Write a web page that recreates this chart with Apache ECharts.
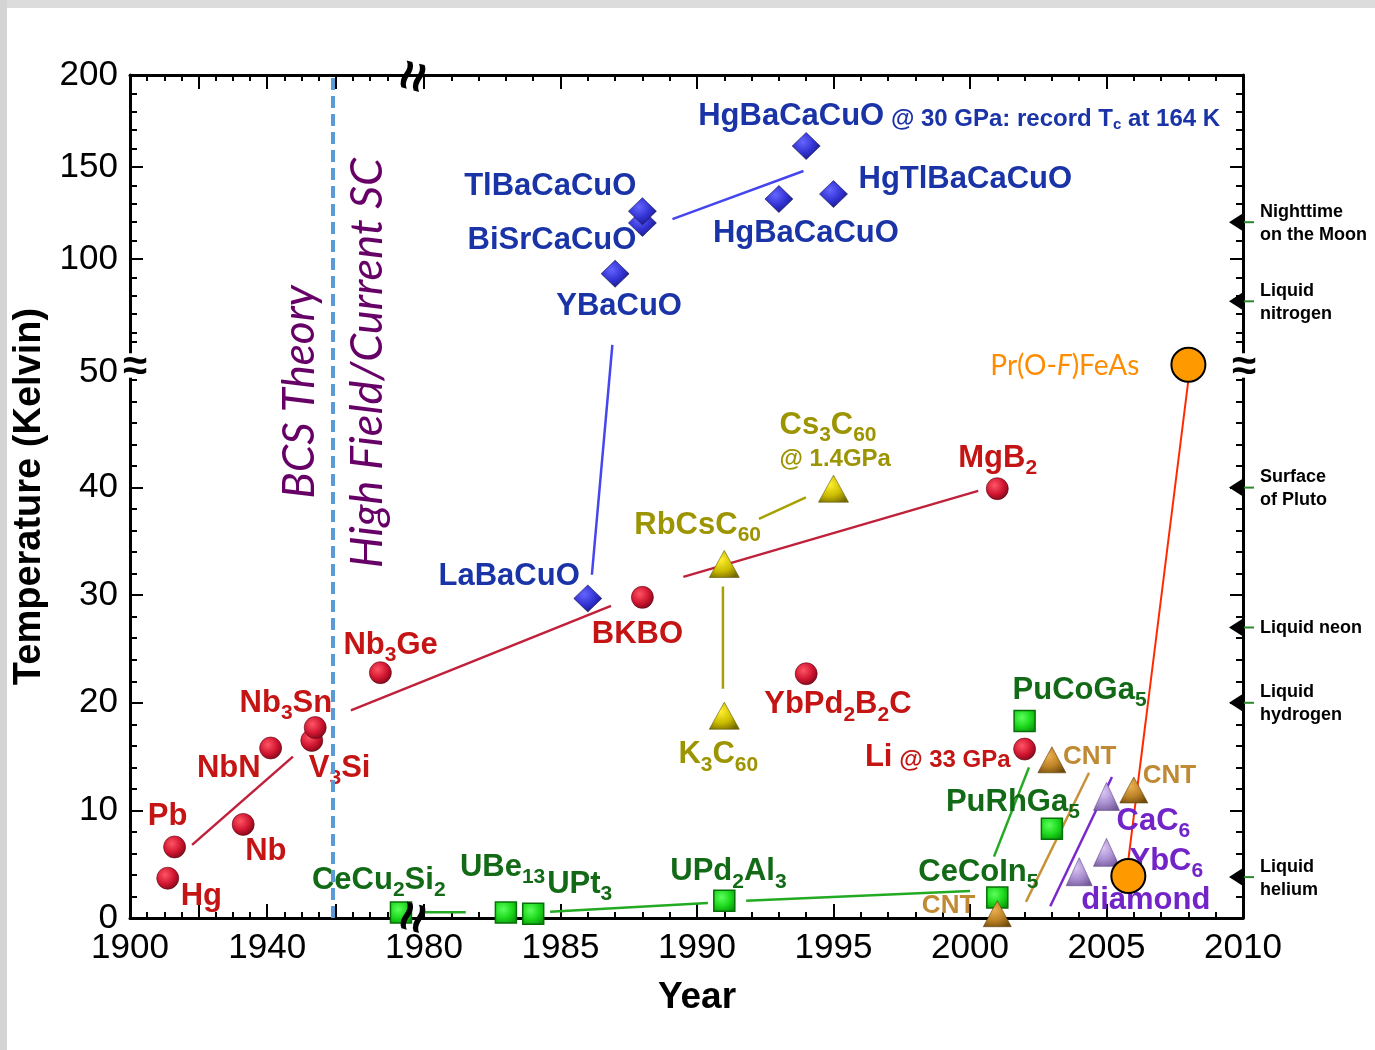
<!DOCTYPE html>
<html>
<head>
<meta charset="utf-8">
<script src="https://cdn.jsdelivr.net/npm/echarts@6/dist/echarts.min.js"></script>
<style>
  html, body { margin: 0; background: #fff; }
  #chart { width: 1375px; height: 1050px; }
</style>
</head>
<body>
<div id="chart"></div>
<script>
// conventional superconductors (red spheres)
const bcsNames = ['Hg', 'Pb', 'Nb', 'NbN', 'V_3Si', 'Nb_3Sn', 'Nb_3Ge', 'BKBO', 'YbPd_2B_2C', 'MgB_2', 'Li| @ 33 GPa'];
const bcsYears = [1911, 1913, 1933, 1941, 1953, 1954, 1973, 1988, 1994, 2001, 2002];
const bcsTc = [3.7, 6.6, 8.7, 15.8, 16.5, 17.7, 22.8, 29.8, 22.7, 39.9, 15.7];

// cuprates (blue diamonds)
const cupNames = ['LaBaCuO', 'YBaCuO', 'BiSrCaCuO', 'TlBaCaCuO', 'HgBaCaCuO', 'HgBaCaCuO| @ 30 GPa: record T_c at 164 K', 'HgTlBaCaCuO'];
const cupYears = [1986, 1987, 1988, 1988, 1993, 1994, 1995];
const cupTc = [29.7, 92, 119.6, 126, 132.6, 161.4, 135.3];

// fullerides (olive triangles)
const fulNames = ['K_3C_60', 'RbCsC_60', 'Cs_3C_60\n|@ 1.4GPa'];
const fulYears = [1991, 1991, 1995];
const fulTc = [18.8, 32.9, 39.9];

// heavy fermions (green squares)
const hfNames = ['CeCu_2Si_2', 'UBe_13', 'UPt_3', 'UPd_2Al_3', 'CeCoIn_5', 'PuCoGa_5', 'PuRhGa_5'];
const hfYears = [1979, 1983, 1984, 1991, 2001, 2002, 2003];
const hfTc = [0.5, 0.5, 0.4, 1.6, 1.9, 18.3, 8.3];

// carbon nanotubes (tan triangles)
const cntNames = ['CNT', 'CNT', 'CNT'];
const cntYears = [2001, 2003, 2006];
const cntTc = [0.4, 14.7, 11.9];

// graphite intercalation + diamond (purple triangles)
const gicNames = ['diamond', 'YbC_6', 'CaC_6'];
const gicYears = [2004, 2005, 2005];
const gicTc = [4.3, 6.1, 11.3];

// iron based (orange)
const feYears = [2005.8, 2008];
const feTc = [3.9, 52];

// guide lines, [year, Tc] pairs
const bcsLines = [[[1918.1, 6.8], [1947.5, 15.0]], [[1964.4, 19.3], [1986.85, 29.0]], [[1989.5, 31.7], [2000.3, 39.7]]];
const cupLines = [[[1986.9, 54.6], [1986.15, 31.9]], [[1989.1, 121.7], [1993.9, 147.8]]];
const fulLines = [[[1992.27, 37.1], [1993.99, 39.1]], [[1990.95, 30.8], [1990.95, 21.3]]];
const hfLines = [[[1979.97, 0.53], [1981.53, 0.53]], [[1984.62, 0.59], [1990.4, 1.4]], [[1991.8, 1.6], [2000.0, 2.5]], [[2000.88, 5.7], [2002.16, 14.0]]];
const cntLines = [[[2002.05, 1.5], [2004.36, 13.5]]];
const gicLines = [[[2002.94, 1.1], [2005.2, 13.1]]];
const feLines = [[[2005.8, 5.4], [2008.0, 50.0]]];

// temperature references on the right edge
const refNames = ['Nighttime\non the Moon', 'Liquid\nnitrogen', 'Surface\nof Pluto', 'Liquid neon', 'Liquid\nhydrogen', 'Liquid\nhelium'];
const refTemps = [120, 77, 40, 27, 20, 3.8];

const xTickLabels = [1900, 1940, 1980, 1985, 1990, 1995, 2000, 2005, 2010];
const yTickLabels = [0, 10, 20, 30, 40, 50, 100, 150, 200];

// broken axes: map real values to a virtual linear scale
function xv(yr) { return yr < 1979.2 ? 3.43 * (yr - 1900) : 294 + 27.3 * (yr - 1980); }
function yv(t) { return t <= 50 ? 10.76 * t : (t <= 55 ? 538 + 7.64 * (t - 50) : 659 + 1.84 * (t - 100)); }
const XMAX = xv(2010), YMAX = yv(200);

const xMajor = [1900, 1920, 1940, 1960, 1980, 1985, 1990, 1995, 2000, 2005, 2010].map(xv);
const xMinor = [];
for (let y = 1905; y <= 1975; y += 5) if (y % 20) xMinor.push(xv(y));
for (let y = 1981; y < 2010; y++) if (y % 5) xMinor.push(xv(y));
const yMajor = [0, 10, 20, 30, 40, 100, 150, 200].map(yv);
const yMinor = [];
for (let t = 2; t <= 50; t += 2) if (t % 10 || t === 50) yMinor.push(yv(t));
yMinor.push(yv(55));
for (let t = 60; t < 200; t += 10) if (t % 50) yMinor.push(yv(t));

const xLabelMap = {};
xTickLabels.forEach(y => { xLabelMap[xv(y).toFixed(1)] = String(y); });
const yLabelAt = t => (t === 50 ? yv(51) : yv(t));
const yLabelMap = {};
yTickLabels.forEach(t => { yLabelMap[yLabelAt(t).toFixed(1)] = String(t); });

const FONT = 'Liberation Sans';

function tok(s, a, b) {
  return s.split(/_([0-9c]+)/).map((p, i) => (p === '' ? '' : '{' + (i % 2 ? b : a) + '|' + p + '}')).join('');
}
function toRich(s) {
  return s.split('\n').map(line => {
    const parts = line.split('|');
    let out = tok(parts[0], 'm', 'u');
    if (parts.length > 1) out += tok(parts[1], 'k', 'ks');
    return out;
  }).join('\n');
}
function richStyles(color, size) {
  const base = { fontFamily: FONT, fontWeight: 'bold', color: color, textBorderWidth: 0 };
  return {
    m: Object.assign({ fontSize: size, lineHeight: 34 }, base),
    u: Object.assign({ fontSize: Math.round(size * 0.68), lineHeight: 34, padding: [20, 0, 0, 0] }, base),
    k: Object.assign({ fontSize: 24, lineHeight: 28, padding: [6, 0, 0, 0] }, base),
    ks: Object.assign({ fontSize: 15, lineHeight: 28, padding: [18, 0, 0, 0] }, base)
  };
}
function sphere(c0, c1, c2) {
  return { type: 'radial', x: 0.38, y: 0.35, r: 0.75, colorStops: [{ offset: 0, color: c0 }, { offset: 0.55, color: c1 }, { offset: 1, color: c2 }] };
}

function family(names, years, tcs, pos, o) {
  return {
    type: 'scatter',
    symbol: o.symbol,
    symbolSize: o.size,
    z: 4,
    silent: true,
    itemStyle: Object.assign({ opacity: 1 }, o.itemStyle),
    label: {
      show: true, position: 'inside', color: o.color, textBorderWidth: 0,
      verticalAlign: 'middle',
      rich: richStyles(o.color, o.fontSize),
      formatter: p => (o.fmt ? o.fmt(p.dataIndex) : toRich(names[p.dataIndex]))
    },
    data: years.map((yr, i) => ({
      value: [xv(yr), yv(tcs[i])],
      label: { offset: [pos[i][0], pos[i][1]], align: pos[i][2] }
    })),
    markLine: o.markLine
  };
}
function guides(lines, color, width) {
  return lines.map(seg => ({
    type: 'line', symbol: 'none', silent: true, z: 2,
    lineStyle: { color: color, width: width || 2.5 },
    data: seg.map(p => [xv(p[0]), yv(p[1])])
  }));
}

const bcsPos = [[13, 18, 'left'], [-7, -31, 'center'], [2, 27, 'left'], [-10, 20, 'right'], [-3, 28, 'left'], [17, -24, 'right'], [-37, -27, 'left'], [-5, 37, 'center'], [-42, 31, 'left'], [-39, -30, 'left'], [-14, 8, 'right']];
const cupPos = [[-8, -22, 'right'], [4, 33, 'center'], [-6, 18, 'right'], [-6, -25, 'right'], [-66, 34, 'left'], [-108, -30, 'left'], [25, -15, 'left']];
const fulPos = [[-6, 39, 'center'], [-90, -39, 'left'], [-54, -49, 'left']];
const hfPos = [[-89, -32, 'left'], [-46, -45, 'left'], [14, -29, 'left'], [-54, -29, 'left'], [-79, -25, 'left'], [-12, -31, 'left'], [-106, -26, 'left']];
const cntPos = [[-22, -8, 'right'], [11, -3, 'left'], [9, -14, 'left']];
const gicPos = [[2, 29, 'left'], [23, 9, 'left'], [10, 25, 'left']];
const fePos = [[0, 0, 'left'], [-49, 1, 'right']];

function axis(kind, position, ticks, len, line, label) {
  return {
    type: 'value', position: position, min: 0, max: kind === 'x' ? XMAX : YMAX,
    axisLine: { show: line, onZero: false, lineStyle: { color: '#000', width: 3 } },
    axisTick: { show: true, inside: true, length: len, customValues: ticks, lineStyle: { color: '#000', width: 2 } },
    axisLabel: label || { show: false },
    splitLine: { show: false }
  };
}
const tickText = { show: true, fontFamily: FONT, fontSize: 35, color: '#000' };

const xMain = axis('x', 'bottom', xMajor, 14, true, Object.assign({
  customValues: xTickLabels.map(xv), margin: 13,
  formatter: v => xLabelMap[(+v).toFixed(1)] || ''
}, tickText));
Object.assign(xMain, {
  name: 'Year', nameLocation: 'middle', nameGap: 61,
  nameTextStyle: { fontFamily: FONT, fontSize: 37, fontWeight: 'bold', color: '#000', padding: [0, 0, 0, 21] }
});
const yMain = axis('y', 'left', yMajor, 13, true, Object.assign({
  customValues: yTickLabels.map(yLabelAt), margin: 12,
  formatter: v => yLabelMap[(+v).toFixed(1)] || ''
}, tickText));
Object.assign(yMain, {
  name: 'Temperature (Kelvin)', nameLocation: 'middle', nameGap: 76,
  nameTextStyle: { fontFamily: FONT, fontSize: 38, fontWeight: 'bold', color: '#000' }
});

const option = {
  animation: false,
  backgroundColor: '#fff',
  grid: { left: 130, top: 75, width: XMAX, height: YMAX, outerBoundsMode: 'none' },
  xAxis: [xMain, axis('x', 'bottom', xMinor, 6, false), axis('x', 'top', xMajor, 14, true), axis('x', 'top', xMinor, 6, false)],
  yAxis: [yMain, axis('y', 'left', yMinor, 7, false), axis('y', 'right', yMajor, 13, true), axis('y', 'right', yMinor, 7, false)],
  series: [].concat(
    guides(bcsLines, '#c0203a'),
    guides(cupLines, '#4646ee'),
    guides(fulLines, '#a8a000'),
    guides(hfLines, '#22aa22'),
    guides(cntLines, '#c8923a'),
    guides(gicLines, '#7a28cc'),
    guides(feLines, '#ff2a00', 2),
    [
      family(bcsNames, bcsYears, bcsTc, bcsPos, {
        symbol: 'circle', size: 22, color: '#c41414', fontSize: 31,
        itemStyle: { color: sphere('#ff5565', '#d01530', '#6e0614'), borderColor: '#5a0410', borderWidth: 0.6 },
        markLine: {
          silent: true, symbol: ['none', 'none'], label: { show: false },
          lineStyle: { color: '#5b9bd5', width: 4, type: [12, 6], opacity: 1 },
          data: [{ xAxis: xv(1959) }]
        }
      }),
      family(cupNames, cupYears, cupTc, cupPos, {
        symbol: 'diamond', size: [28, 27], color: '#1a34a8', fontSize: 31,
        itemStyle: { color: sphere('#6464ff', '#3030d0', '#16166e'), borderColor: '#10104e', borderWidth: 0.6 }
      }),
      family(fulNames, fulYears, fulTc, fulPos, {
        symbol: 'triangle', size: [30, 27], color: '#9c9400', fontSize: 31,
        itemStyle: { color: sphere('#fff030', '#ccbc00', '#746a00'), borderColor: '#605800', borderWidth: 0.6 }
      }),
      family(hfNames, hfYears, hfTc, hfPos, {
        symbol: 'rect', size: 21, color: '#126a16', fontSize: 31,
        itemStyle: { color: sphere('#5cff5c', '#1cd81c', '#0a940a'), borderColor: '#087008', borderWidth: 1.5 }
      }),
      family(cntNames, cntYears, cntTc, cntPos, {
        symbol: 'triangle', size: [28, 26], color: '#c08a34', fontSize: 26,
        itemStyle: { color: sphere('#eab050', '#bc8226', '#704a0c'), borderColor: '#604006', borderWidth: 0.6 }
      }),
      family(gicNames, gicYears, gicTc, gicPos, {
        symbol: 'triangle', size: [26, 28], color: '#7224c8', fontSize: 31,
        itemStyle: { color: sphere('#dcc6f4', '#a88ed0', '#725896'), borderColor: '#624a86', borderWidth: 0.6 }
      }),
      Object.assign(family(['', ''], feYears, feTc, fePos, {
        symbol: 'circle', size: 34, color: '#ff8c00', fontSize: 28,
        itemStyle: { color: '#ff9900', borderColor: '#000', borderWidth: 2 },
        fmt: i => (i === 1 ? '{p|Pr(O-}{pi|F}{p|)FeAs}' : '')
      }), {
        z: 5
      }),
      {
        type: 'scatter', silent: true, z: 6, symbol: 'triangle', symbolSize: [18, 14], symbolRotate: 90,
        symbolOffset: [-7, 0], itemStyle: { color: '#000', opacity: 1 },
        data: refTemps.map(t => [XMAX, yv(t)])
      },
      {
        type: 'scatter', silent: true, z: 6, symbol: 'rect', symbolSize: [10, 2],
        symbolOffset: [6, 0], itemStyle: { color: '#2a8a2a', opacity: 1 },
        data: refTemps.map(t => [XMAX, yv(t)])
      },
      {
        type: 'scatter', silent: true, z: 6, symbolSize: 0, itemStyle: { opacity: 1 },
        label: {
          show: true, position: 'inside', align: 'left', offset: [17, 1],
          fontFamily: FONT, fontSize: 18, fontWeight: 'bold', color: '#000', lineHeight: 23, textBorderWidth: 0,
          formatter: p => refNames[p.dataIndex]
        },
        data: refTemps.map(t => [XMAX, yv(t)])
      }
    ]
  )
};
// rich styles of the iron-based label
const feSeries = option.series[option.series.length - 4];
feSeries.label.rich.p = { fontFamily: 'Lato', fontSize: 28, color: '#ff8c00', textBorderWidth: 0 };
feSeries.label.rich.pi = { fontFamily: 'Lato', fontSize: 28, fontStyle: 'italic', color: '#ff8c00', textBorderWidth: 0 };

const chart = echarts.init(document.getElementById('chart'));
chart.setOption(option);

// decorations: axis breaks and era labels
const px = (x, y) => chart.convertToPixel({ xAxisIndex: 0, yAxisIndex: 0 }, [x, y]);
const bcsX = px(xv(1959), 0)[0];
const gLeft = px(0, 0)[0], gRight = px(XMAX, 0)[0];
const gTop = px(0, YMAX)[1], gBottom = px(0, 0)[1];
const gapTop = px(0, yv(53.5))[1], gapBot = px(0, yv(50.3))[1], gapMid = px(0, yv(51.6))[1];
const xBreak = px(xv(1979.7), 0)[0];
const breakFont = 'bold 44px "Liberation Sans"';
const xBreakFont = 'bold 54px "Liberation Sans"';
chart.setOption({
  graphic: [
    { type: 'rect', shape: { x: 0, y: 0, width: 1375, height: 8 }, style: { fill: '#dcdcdc' }, silent: true },
    { type: 'rect', shape: { x: 0, y: 0, width: 7, height: 1050 }, style: { fill: '#d4d4d4' }, silent: true },
    { type: 'rect', shape: { x: gLeft - 6, y: gapTop, width: 12, height: gapBot - gapTop }, style: { fill: '#fff' }, z: 50, silent: true },
    { type: 'rect', shape: { x: gRight - 6, y: gapTop, width: 12, height: gapBot - gapTop }, style: { fill: '#fff' }, z: 50, silent: true },
    { type: 'text', x: gLeft + 5, y: gapMid, z: 51, silent: true, style: { text: '≈', font: breakFont, fill: '#000', align: 'center', verticalAlign: 'middle' } },
    { type: 'text', x: gRight + 1, y: gapMid, z: 51, silent: true, style: { text: '≈', font: breakFont, fill: '#000', align: 'center', verticalAlign: 'middle' } },
    { type: 'text', x: xBreak, y: gTop + 2, rotation: Math.PI * 0.42, z: 51, silent: true, style: { text: '≈', font: xBreakFont, fill: '#000', align: 'center', verticalAlign: 'middle' } },
    { type: 'text', x: xBreak, y: gBottom, rotation: Math.PI * 0.42, z: 51, silent: true, style: { text: '≈', font: xBreakFont, fill: '#000', align: 'center', verticalAlign: 'middle' } },
    { type: 'text', x: bcsX - 33, y: 392, rotation: Math.PI / 2, z: 10, silent: true, style: { text: 'BCS Theory', font: 'italic 44px Lato', fill: '#660066', align: 'center', verticalAlign: 'middle' } },
    { type: 'text', x: bcsX + 35, y: 363, rotation: Math.PI / 2, z: 10, silent: true, style: { text: 'High Field/Current SC', font: 'italic 45px Lato', fill: '#660066', align: 'center', verticalAlign: 'middle' } }
  ]
});
</script>
</body>
</html>
